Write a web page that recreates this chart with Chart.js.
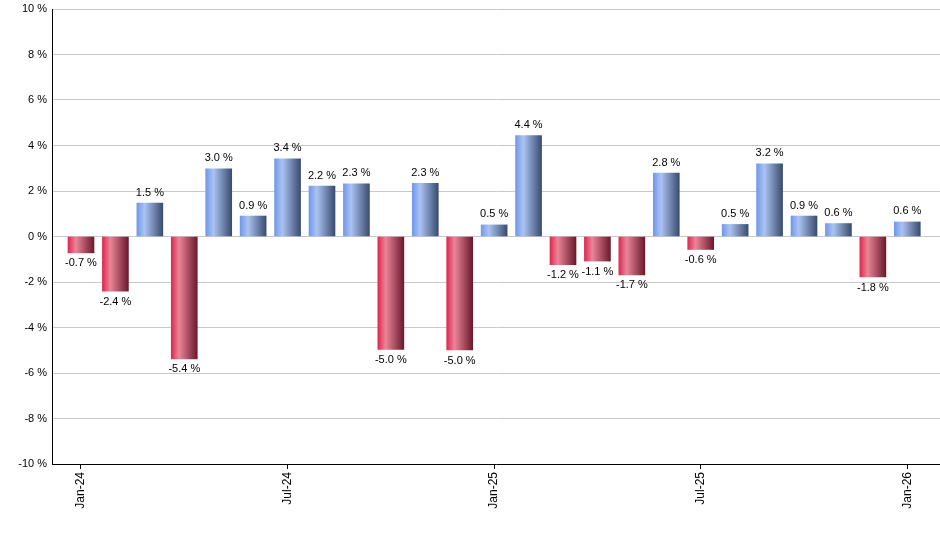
<!DOCTYPE html>
<html>
<head>
<meta charset="utf-8">
<script src="https://cdn.jsdelivr.net/npm/chart.js@4"></script>
<style>
  html, body { margin: 0; padding: 0; background: #fff; }
  #wrap { width: 940px; height: 550px; }
</style>
</head>
<body>
<div id="wrap"><canvas id="chart" width="940" height="550"></canvas></div>
<script>
// monthly changes, Jan-24 .. Jan-26
const months = ["Jan-24", "Feb-24", "Mar-24", "Apr-24", "May-24", "Jun-24", "Jul-24", "Aug-24", "Sep-24",
  "Oct-24", "Nov-24", "Dec-24", "Jan-25", "Feb-25", "Mar-25", "Apr-25", "May-25", "Jun-25", "Jul-25",
  "Aug-25", "Sep-25", "Oct-25", "Nov-25", "Dec-25", "Jan-26"];
const changes = [-0.72, -2.40, 1.47, -5.38, 2.97, 0.90, 3.41, 2.22, 2.31, -4.96, 2.34, -4.99, 0.51,
  4.44, -1.24, -1.08, -1.69, 2.79, -0.57, 0.53, 3.19, 0.90, 0.57, -1.78, 0.64];
const xTickPos = [0, 6, 12, 18, 24];
const xTickLabels = ["Jan-24", "Jul-24", "Jan-25", "Jul-25", "Jan-26"];
const yTicks = [-10, -8, -6, -4, -2, 0, 2, 4, 6, 8, 10];

const FONT = "'Liberation Sans', Arial, sans-serif";

function barFill(context) {
  const chart = context.chart;
  const v = context.raw ? context.raw.y : 0;
  if (!chart.chartArea || !chart.scales.x) return v < 0 ? "#c83a5a" : "#7a9ce0";
  const cx = chart.scales.x.getPixelForValue(context.dataIndex);
  const x0 = cx - 13, x1 = cx + 13;
  const g = chart.ctx.createLinearGradient(x0, 0, x1, 0);
  if (v < 0) {
    g.addColorStop(0, "#dc2a50");
    g.addColorStop(0.3, "#ea8599");
    g.addColorStop(1, "#6a1a2c");
  } else {
    g.addColorStop(0, "#7199e8");
    g.addColorStop(0.3, "#abc3f2");
    g.addColorStop(1, "#3a4c70");
  }
  return g;
}

// value labels above / below each bar
const valueLabels = {
  id: "valueLabels",
  afterDatasetsDraw(chart) {
    const ctx = chart.ctx;
    const meta = chart.getDatasetMeta(0);
    ctx.save();
    ctx.font = "11px " + FONT;
    ctx.fillStyle = "#000";
    ctx.textAlign = "center";
    meta.data.forEach((bar, i) => {
      const v = changes[i];
      const txt = v.toFixed(1) + " %";
      if (v >= 0) {
        ctx.textBaseline = "bottom";
        ctx.fillText(txt, bar.x, bar.y - 5);
      } else {
        ctx.textBaseline = "top";
        ctx.fillText(txt, bar.x, bar.y + 5);
      }
    });
    ctx.restore();
  }
};

new Chart(document.getElementById("chart"), {
  type: "bar",
  data: {
    datasets: [{
      data: changes.map((v, i) => ({ x: i, y: v })),
      backgroundColor: barFill,
      borderWidth: 0,
      barThickness: 26
    }]
  },
  options: {
    responsive: false,
    animation: false,
    layout: { padding: { top: 9, right: 0, left: 0, bottom: 0 } },
    plugins: { legend: { display: false }, tooltip: { enabled: false } },
    scales: {
      x: {
        type: "linear",
        offset: false,
        min: -0.842,
        max: 24.95,
        afterBuildTicks: axis => { axis.ticks = xTickPos.map(v => ({ value: v })); },
        afterFit: axis => { axis.height = 86; axis.paddingLeft = 0; axis.paddingRight = 0; },
        ticks: {
          autoSkip: false,
          minRotation: 90,
          maxRotation: 90,
          padding: 3,
          color: "#000",
          font: { family: FONT, size: 12 },
          callback: v => xTickLabels[xTickPos.indexOf(v)]
        },
        grid: { offset: false, drawOnChartArea: false, drawTicks: true, tickLength: 5, color: "#000" },
        border: { display: true, color: "#000", width: 1 }
      },
      y: {
        min: -10,
        max: 10,
        afterBuildTicks: axis => { axis.ticks = yTicks.map(v => ({ value: v })); },
        afterFit: axis => { axis.width = 52; axis.paddingTop = 0; axis.paddingBottom = 0; },
        ticks: {
          padding: 5,
          color: "#000",
          font: { family: FONT, size: 11 },
          callback: v => v + " %"
        },
        grid: { color: "#c8c8c8", drawTicks: false },
        border: { display: true, color: "#000", width: 1 }
      }
    }
  },
  plugins: [valueLabels]
});
</script>
</body>
</html>
